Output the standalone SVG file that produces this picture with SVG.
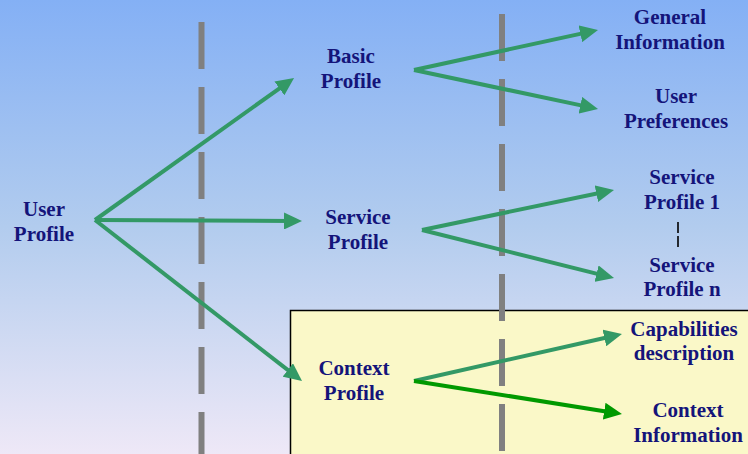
<svg xmlns="http://www.w3.org/2000/svg" width="748" height="454" viewBox="0 0 748 454">
  <defs>
    <linearGradient id="bg" x1="0" y1="0" x2="0" y2="1">
      <stop offset="0" stop-color="#84B0F5"/>
      <stop offset="0.5" stop-color="#B2CCEE"/>
      <stop offset="1" stop-color="#EEE8F7"/>
    </linearGradient>
    <marker id="ah" markerUnits="userSpaceOnUse" markerWidth="18" markerHeight="17" refX="8" refY="8.5" orient="auto">
      <path d="M0,0 L18,8.5 L0,17 z" fill="#339966"/>
    </marker>
    <marker id="ah2" markerUnits="userSpaceOnUse" markerWidth="18" markerHeight="17" refX="8" refY="8.5" orient="auto">
      <path d="M0,0 L18,8.5 L0,17 z" fill="#009900"/>
    </marker>
  </defs>
  <style>
    .t { font-family: "Liberation Serif", "Times New Roman", serif; font-weight: bold; font-size: 21px; fill: #14147A; text-anchor: middle; }
    .c { fill: none; stroke: #339966; stroke-width: 4; marker-end: url(#ah); }
    .c2 { fill: none; stroke: #009900; stroke-width: 4; marker-end: url(#ah2); }
    .d { stroke: #808080; stroke-width: 6; stroke-dasharray: 47 18; fill: none; }
  </style>
  <rect x="0" y="0" width="748" height="454" fill="url(#bg)"/>
  <g id="context-area">
    <rect x="290.5" y="310.5" width="470" height="160" fill="#FAF8C8" stroke="#000000" stroke-width="1.5"/>
  </g>
  <g id="separators">
    <line class="d" x1="201.5" y1="22" x2="201.5" y2="454"/>
    <line class="d" x1="502" y1="14" x2="502" y2="454"/>
  </g>
  <g id="connectors">
    <path class="c" d="M95,220 L285.9,83.8"/>
    <path class="c" d="M95,220 L292,221"/>
    <path class="c" d="M95,220 L294.1,374.9"/>
    <path class="c" d="M414,70 L588.2,32.1"/>
    <path class="c" d="M414,70 L588.2,106.9"/>
    <path class="c" d="M422,230 L604.2,192"/>
    <path class="c" d="M422,230 L604.3,275.6"/>
    <path class="c" d="M414,381 L612.2,336.2"/>
    <path class="c2" d="M414,381 L612.1,412.4"/>
    <path d="M678,222 V233 M678,236 V247" stroke="#000000" stroke-width="1.6"/>
  </g>
  <g id="user-profile"><text class="t" x="44" y="216">User</text><text class="t" x="44" y="241">Profile</text></g>
  <g id="basic-profile"><text class="t" x="351" y="63">Basic</text><text class="t" x="351" y="88">Profile</text></g>
  <g id="service-profile"><text class="t" x="358" y="224">Service</text><text class="t" x="358" y="249">Profile</text></g>
  <g id="context-profile"><text class="t" x="354" y="375">Context</text><text class="t" x="354" y="400">Profile</text></g>
  <g id="general-information"><text class="t" x="670" y="24">General</text><text class="t" x="670" y="49">Information</text></g>
  <g id="user-preferences"><text class="t" x="676" y="103">User</text><text class="t" x="676" y="128">Preferences</text></g>
  <g id="service-profile-1"><text class="t" x="682" y="184">Service</text><text class="t" x="682" y="209">Profile 1</text></g>
  <g id="service-profile-n"><text class="t" x="682" y="272">Service</text><text class="t" x="682" y="296">Profile n</text></g>
  <g id="capabilities-description"><text class="t" x="684" y="336">Capabilities</text><text class="t" x="684" y="360">description</text></g>
  <g id="context-information"><text class="t" x="688" y="417">Context</text><text class="t" x="688" y="442">Information</text></g>
</svg>
